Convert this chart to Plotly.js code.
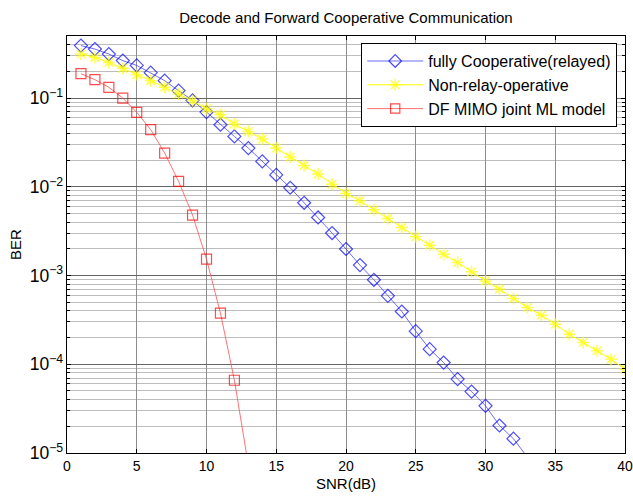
<!DOCTYPE html>
<html><head><meta charset="utf-8">
<script src="https://cdn.plot.ly/plotly-3.0.1.min.js"></script>
<style>html,body{margin:0;padding:0;background:#fff}#chart{width:633px;height:497px}</style>
</head><body><div id="chart"></div>
<script>
const snrBlue = [1,2,3,4,5,6,7,8,9,10,11,12,13,14,15,16,17,18,19,20,21,22,23,24,25,26,27,28,29,30,31,32,33];
const berFullyCoop = [0.39,0.356,0.313,0.264,0.233,0.193,0.157,0.121,0.094,0.0695,0.050,0.0369,0.0273,0.0193,0.0136,0.00975,0.0066,0.00451,0.00301,0.00199,0.00131,0.000895,0.00059,0.000393,0.000236,0.000148,0.0001045,0.000068,0.0000492,0.000034,0.0000204,0.0000145,0.000009];
const snrYellow = [1,2,3,4,5,6,7,8,9,10,11,12,13,14,15,16,17,18,19,20,21,22,23,24,25,26,27,28,29,30,31,32,33,34,35,36,37,38,39,40];
const berNonRelay = [0.313,0.287,0.252,0.216,0.183,0.157,0.132,0.111,0.093,0.0757,0.0648,0.0509,0.042,0.0345,0.0273,0.0216,0.0174,0.0139,0.0107,0.00841,0.00695,0.00551,0.0044,0.00348,0.00273,0.0022,0.00174,0.0014,0.0011,0.00087,0.000703,0.000551,0.000436,0.000357,0.000283,0.000218,0.000176,0.000142,0.000114,0.000088];
const snrRed = [1,2,3,4,5,6,7,8,9,10,11,12,13];
const berDFMimo = [0.188,0.161,0.132,0.100,0.0689,0.044,0.024,0.0115,0.0048,0.00153,0.000377,0.000066,0.0000073];
const xTicks = [0,5,10,15,20,25,30,35,40];
const seriesNames = ['fully Cooperative(relayed)','Non-relay-operative','DF MIMO joint ML model'];

const Y_MIN = 1e-5;
const FONT = 'Liberation Sans, Arial, sans-serif';
// markers only for points inside the visible y range
const sizesFor = (ys) => ys.map(v => v >= Y_MIN ? 10 : 0);

const traces = [
  {x: snrBlue, y: berFullyCoop, name: seriesNames[0], mode: 'lines+markers',
   line: {color: 'rgba(60,60,255,0.75)', width: 1},
   marker: {symbol: 'diamond-open', size: sizesFor(berFullyCoop), color: '#0000ff', line: {width: 1.2, color: '#0000ff'}}},
  {x: snrYellow, y: berNonRelay, name: seriesNames[1], mode: 'lines+markers',
   line: {color: '#ffff00', width: 1},
   marker: {symbol: 'asterisk-open', size: sizesFor(berNonRelay), color: '#ffff00', line: {width: 1.5, color: '#ffff00'}}},
  {x: snrRed, y: berDFMimo, name: seriesNames[2], mode: 'lines+markers',
   line: {color: 'rgba(255,90,90,0.85)', width: 1},
   marker: {symbol: 'square-open', size: sizesFor(berDFMimo), color: '#ff0000', line: {width: 1.2, color: '#ff0000'}}}
];

const layout = {
  width: 633, height: 497,
  margin: {l: 67, r: 8, t: 36, b: 44},
  paper_bgcolor: '#fff', plot_bgcolor: '#fff',
  font: {family: FONT, size: 14, color: '#000'},
  title: {text: 'Decode and Forward Cooperative Communication', font: {family: FONT, size: 15, color: '#000'},
          x: 0.5465, xanchor: 'center', y: 0.965, yanchor: 'middle'},
  xaxis: {range: [0, 40], tickvals: xTicks, ticktext: xTicks.map(String),
          showline: true, linecolor: '#000', linewidth: 1, mirror: 'allticks',
          ticks: 'inside', ticklen: 4, tickcolor: '#000',
          showgrid: true, gridcolor: '#8c8c8c', gridwidth: 1, zeroline: false,
          tickfont: {family: FONT, size: 14},
          title: {text: 'SNR(dB)', font: {family: FONT, size: 15}, standoff: 5}},
  yaxis: {type: 'log', range: [-5, Math.log10(0.5)], dtick: 1, exponentformat: 'power',
          showline: true, linecolor: '#000', linewidth: 1, mirror: 'allticks',
          ticks: 'inside', ticklen: 4, tickcolor: '#000',
          showgrid: true, gridcolor: '#666', gridwidth: 1, zeroline: false,
          tickfont: {family: FONT, size: 14},
          minor: {dtick: 'D1', showgrid: true, gridcolor: '#bdbdbd', gridwidth: 1, ticks: 'inside', ticklen: 3, tickcolor: '#000'},
          title: {text: 'BER', font: {family: FONT, size: 15}, standoff: 4}},
  showlegend: true,
  legend: {x: 0.986, xanchor: 'right', y: 0.983, yanchor: 'top',
           bgcolor: '#fff', bordercolor: '#000', borderwidth: 1,
           font: {family: FONT, size: 16}, itemwidth: 56, tracegroupgap: 0}
};

Plotly.newPlot('chart', traces, layout, {displayModeBar: false, staticPlot: true});
</script></body></html>
